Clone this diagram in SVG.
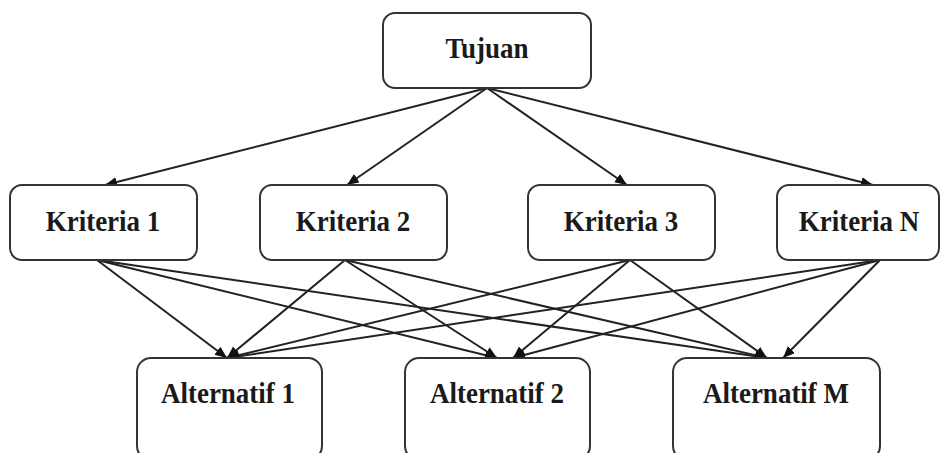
<svg xmlns="http://www.w3.org/2000/svg" width="950" height="453" viewBox="0 0 950 453">
<style>
.box{fill:#fff;stroke:#333;stroke-width:2}
.lbl{font-family:"Liberation Serif","Times New Roman",serif;font-weight:bold;font-size:27px;fill:#1a1a1a;text-anchor:middle}
.edge{stroke:#222;stroke-width:2;fill:none;marker-end:url(#arr)}
</style>
<defs>
<marker id="arr" markerUnits="userSpaceOnUse" markerWidth="14" markerHeight="12" refX="12" refY="5" orient="auto">
<path d="M0,0 L12,5 L0,10 Z" fill="#111"/>
</marker>
</defs>
<rect width="950" height="453" fill="#fff"/>
<g id="connectors">
<line class="edge" x1="487" y1="88" x2="105" y2="185"/>
<line class="edge" x1="487" y1="88" x2="347" y2="185"/>
<line class="edge" x1="487" y1="88" x2="627" y2="185"/>
<line class="edge" x1="487" y1="88" x2="873" y2="185"/>
<line class="edge" x1="97" y1="260" x2="227" y2="358"/>
<line class="edge" x1="97" y1="260" x2="497" y2="358"/>
<line class="edge" x1="97" y1="260" x2="767" y2="358"/>
<line class="edge" x1="345" y1="260" x2="227" y2="358"/>
<line class="edge" x1="345" y1="260" x2="497" y2="358"/>
<line class="edge" x1="345" y1="260" x2="767" y2="358"/>
<line class="edge" x1="630" y1="260" x2="227" y2="358"/>
<line class="edge" x1="630" y1="260" x2="513" y2="358"/>
<line class="edge" x1="630" y1="260" x2="767" y2="358"/>
<line class="edge" x1="880" y1="260" x2="227" y2="358"/>
<line class="edge" x1="880" y1="260" x2="513" y2="358"/>
<line class="edge" x1="880" y1="260" x2="783" y2="358"/>
</g>
<g id="tujuan"><rect class="box" x="383" y="13" width="208" height="75" rx="12"/><text class="lbl" transform="translate(487,58) scale(1,1.12)">Tujuan</text></g>
<g id="kriteria1"><rect class="box" x="10" y="185" width="187" height="75" rx="12"/><text class="lbl" transform="translate(103,231) scale(1,1.12)">Kriteria 1</text></g>
<g id="kriteria2"><rect class="box" x="260" y="185" width="187" height="75" rx="12"/><text class="lbl" transform="translate(353,231) scale(1,1.12)">Kriteria 2</text></g>
<g id="kriteria3"><rect class="box" x="528" y="185" width="187" height="75" rx="12"/><text class="lbl" transform="translate(621,231) scale(1,1.12)">Kriteria 3</text></g>
<g id="kriteriaN"><rect class="box" x="777" y="185" width="162" height="75" rx="12"/><text class="lbl" transform="translate(859,231) scale(1,1.12)">Kriteria N</text></g>
<g id="alternatif1"><rect class="box" x="137" y="358" width="185" height="102" rx="14"/><text class="lbl" transform="translate(228,403) scale(1,1.12)">Alternatif 1</text></g>
<g id="alternatif2"><rect class="box" x="405" y="358" width="185" height="102" rx="14"/><text class="lbl" transform="translate(497,403) scale(1,1.12)">Alternatif 2</text></g>
<g id="alternatifM"><rect class="box" x="673" y="358" width="207" height="102" rx="14"/><text class="lbl" transform="translate(776,403) scale(1,1.12)">Alternatif M</text></g>
</svg>
